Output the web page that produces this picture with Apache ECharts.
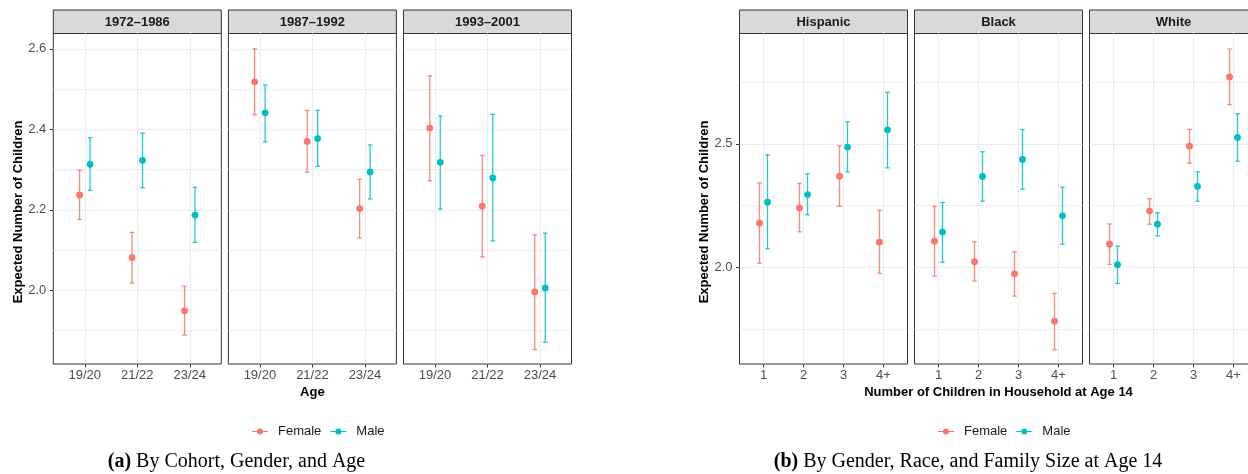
<!DOCTYPE html>
<html>
<head>
<meta charset="utf-8">
<script src="https://cdn.jsdelivr.net/npm/echarts@6/dist/echarts.min.js"></script>
<style>
  html, body { margin: 0; padding: 0; background: #fff; }
  #chart { width: 1248px; height: 474px; }
</style>
</head>
<body>
<div id="chart"></div>
<script>
// ---- data ----
const ageGroups = ['19/20', '21/22', '23/24'];
const cohorts = ['1972–1986', '1987–1992', '1993–2001'];
// rows = cohort, columns = age group
const cohortFemaleEst  = [[2.237, 2.081, 1.949], [2.518, 2.370, 2.203], [2.403, 2.209, 1.996]];
const cohortFemaleLow  = [[2.176, 2.018, 1.889], [2.436, 2.294, 2.130], [2.272, 2.083, 1.853]];
const cohortFemaleHigh = [[2.298, 2.144, 2.010], [2.600, 2.447, 2.276], [2.533, 2.335, 2.138]];
const cohortMaleEst    = [[2.313, 2.323, 2.187], [2.441, 2.377, 2.294], [2.318, 2.279, 2.006]];
const cohortMaleLow    = [[2.248, 2.255, 2.119], [2.369, 2.308, 2.227], [2.202, 2.123, 1.871]];
const cohortMaleHigh   = [[2.379, 2.390, 2.256], [2.510, 2.447, 2.361], [2.433, 2.437, 2.142]];
const cohortTicks = [2.0, 2.2, 2.4, 2.6];
const cohortGridLines = [1.9, 2.0, 2.1, 2.2, 2.3, 2.4, 2.5, 2.6];

const familySizes = ['1', '2', '3', '4+'];
const races = ['Hispanic', 'Black', 'White'];
// rows = race, columns = family size
const raceFemaleEst  = [[2.179, 2.241, 2.369, 2.102], [2.106, 2.023, 1.974, 1.782], [2.094, 2.228, 2.491, 2.771]];
const raceFemaleLow  = [[2.017, 2.144, 2.247, 1.976], [1.965, 1.945, 1.884, 1.667], [2.012, 2.175, 2.422, 2.659]];
const raceFemaleHigh = [[2.342, 2.340, 2.492, 2.231], [2.247, 2.104, 2.063, 1.895], [2.176, 2.278, 2.559, 2.884]];
const raceMaleEst    = [[2.264, 2.295, 2.487, 2.557], [2.143, 2.368, 2.437, 2.209], [2.011, 2.175, 2.328, 2.526]];
const raceMaleLow    = [[2.075, 2.213, 2.387, 2.403], [2.021, 2.268, 2.317, 2.094], [1.935, 2.128, 2.268, 2.430]];
const raceMaleHigh   = [[2.456, 2.379, 2.589, 2.709], [2.263, 2.468, 2.558, 2.325], [2.086, 2.221, 2.387, 2.622]];
const raceTicks = [2.0, 2.5];
const raceGridLines = [1.75, 2.0, 2.25, 2.5, 2.75];

const FEMALE = '#F8766D';
const MALE = '#00BFC4';
const FONT = '"Liberation Sans", Arial, sans-serif';

let chart = echarts.init(document.getElementById('chart'));

const grids = [], xAxes = [], yAxes = [], series = [], graphics = [];

function renderBar(params, api) {
    const x = api.value(0);
    const p = api.coord([x, api.value(1)]);
    const lo = api.coord([x, api.value(2)]);
    const hi = api.coord([x, api.value(3)]);
    const color = api.visual('color');
    const cap = 2.3;
    const ls = { stroke: color, lineWidth: 1.3, opacity: 0.85 };
    return {
        type: 'group',
        children: [
            { type: 'line', shape: { x1: lo[0], y1: lo[1], x2: hi[0], y2: hi[1] }, style: ls },
            { type: 'line', shape: { x1: hi[0] - cap, y1: hi[1], x2: hi[0] + cap, y2: hi[1] }, style: ls },
            { type: 'line', shape: { x1: lo[0] - cap, y1: lo[1], x2: lo[0] + cap, y2: lo[1] }, style: ls },
            { type: 'circle', shape: { cx: p[0], cy: p[1], r: 3.4 }, style: { fill: color } }
        ]
    };
}

function addPanel(p) {
    p.facets.forEach((facet, f) => {
        const gi = grids.length;
        const left = p.lefts[f];
        grids.push({ left: left, top: 33.5, width: p.width, height: 330.5, show: true,
            outerBoundsMode: 'none', containLabel: false,
            borderColor: '#333', borderWidth: 1, backgroundColor: '#fff' });
        xAxes.push({
            type: 'value', gridIndex: gi, min: 0.4, max: p.cats.length + 0.6,
            axisLine: { show: false, onZero: false },
            axisTick: { show: true, customValues: p.cats.map((c, i) => i + 1), length: 3.5,
                lineStyle: { color: '#333', width: 1 } },
            axisLabel: { customValues: p.cats.map((c, i) => i + 1), margin: 5,
                formatter: v => p.cats[Math.round(v) - 1], color: '#4D4D4D', fontSize: 13, fontFamily: FONT },
            splitLine: { show: true, lineStyle: { color: '#EBEBEB', width: 1 } }
        });
        const yi = yAxes.length;
        yAxes.push({
            type: 'value', gridIndex: gi, min: p.yMin, max: p.yMax,
            axisLine: { show: false }, axisLabel: { show: false },
            axisTick: { show: false, customValues: p.gridLines },
            splitLine: { show: true, lineStyle: { color: '#EBEBEB', width: 1 } }
        });
        if (f === 0) {
            yAxes.push({
                type: 'value', gridIndex: gi, min: p.yMin, max: p.yMax, position: 'left',
                axisLine: { show: false }, splitLine: { show: false },
                axisTick: { show: true, customValues: p.ticks, length: 3.5, lineStyle: { color: '#333', width: 1 } },
                axisLabel: { customValues: p.ticks, formatter: v => v.toFixed(1), margin: 7,
                    color: '#4D4D4D', fontSize: 13, fontFamily: FONT }
            });
        }
        const mk = (est, low, high, shift) => est[f].map((v, i) => [i + 1 + shift, v, low[f][i], high[f][i]]);
        series.push({
            name: 'Female', type: 'custom', xAxisIndex: gi, yAxisIndex: yi, renderItem: renderBar,
            itemStyle: { color: FEMALE }, encode: { x: 0, y: [1, 2, 3] },
            data: mk(p.fEst, p.fLow, p.fHigh, -0.1)
        });
        series.push({
            name: 'Male', type: 'custom', xAxisIndex: gi, yAxisIndex: yi, renderItem: renderBar,
            itemStyle: { color: MALE }, encode: { x: 0, y: [1, 2, 3] },
            data: mk(p.mEst, p.mLow, p.mHigh, 0.1)
        });
        // facet strip
        graphics.push({ type: 'rect', shape: { x: left, y: 10, width: p.width, height: 23.5 },
            style: { fill: '#D9D9D9', stroke: '#333', lineWidth: 1 } });
        graphics.push({ type: 'text', x: left + p.width / 2, y: 22,
            style: { text: facet, fill: '#1A1A1A', font: 'bold 13px ' + FONT,
                textAlign: 'center', textVerticalAlign: 'middle' } });
    });
    const mid = (p.lefts[0] + p.lefts[p.lefts.length - 1] + p.width) / 2;
    graphics.push({ type: 'text', x: mid, y: 392,
        style: { text: p.xTitle, fill: '#000', font: 'bold 13px ' + FONT, textAlign: 'center', textVerticalAlign: 'middle' } });
    graphics.push({ type: 'text', x: p.yTitleX, y: 212, rotation: Math.PI / 2,
        style: { text: 'Expected Number of Children', fill: '#000', font: 'bold 13px ' + FONT,
            textAlign: 'center', textVerticalAlign: 'middle' } });
    graphics.push({ type: 'text', x: p.captionX, y: 462,
        style: { text: p.caption, textAlign: 'center', textVerticalAlign: 'middle',
            font: '20px "Liberation Serif", serif', fill: '#000',
            rich: { b: { fontWeight: 'bold', fontSize: 20, fontFamily: '"Liberation Serif", serif' } } } });
}

addPanel({
    facets: cohorts, cats: ageGroups, lefts: [53.3, 228.4, 403.5], width: 168,
    yMin: 1.817, yMax: 2.638, ticks: cohortTicks, gridLines: cohortGridLines,
    fEst: cohortFemaleEst, fLow: cohortFemaleLow, fHigh: cohortFemaleHigh,
    mEst: cohortMaleEst, mLow: cohortMaleLow, mHigh: cohortMaleHigh,
    xTitle: 'Age', yTitleX: 18, captionX: 236.5, caption: '{b|(a)} By Cohort, Gender, and Age'
});
addPanel({
    facets: races, cats: familySizes, lefts: [739.5, 914.5, 1089.5], width: 168,
    yMin: 1.609, yMax: 2.947, ticks: raceTicks, gridLines: raceGridLines,
    fEst: raceFemaleEst, fLow: raceFemaleLow, fHigh: raceFemaleHigh,
    mEst: raceMaleEst, mLow: raceMaleLow, mHigh: raceMaleHigh,
    xTitle: 'Number of Children in Household at Age 14', yTitleX: 704, captionX: 968,
    caption: '{b|(b)} By Gender, Race, and Family Size at Age 14'
});

const keyIcon = 'path://M0,3.4H16V4.6H0Z M5,4A3,3 0 1 1 11,4A3,3 0 1 1 5,4Z';
const legendBase = {
    data: ['Female', 'Male'], top: 420, icon: keyIcon, itemWidth: 16, itemHeight: 8, itemGap: 9,
    textStyle: { color: '#1A1A1A', fontSize: 13, fontFamily: FONT, padding: [0, 0, 0, 5] },
    selectedMode: false
};

const option = {
    animation: false,
    textStyle: { fontFamily: FONT },
    grid: grids,
    xAxis: xAxes,
    yAxis: yAxes,
    legend: [
        Object.assign({ left: 247 }, legendBase),
        Object.assign({ left: 933 }, legendBase)
    ],
    graphic: graphics,
    series: series
};

chart.setOption(option);

window.addEventListener('resize', function () {
    chart.resize();
});
</script>
</body>
</html>
